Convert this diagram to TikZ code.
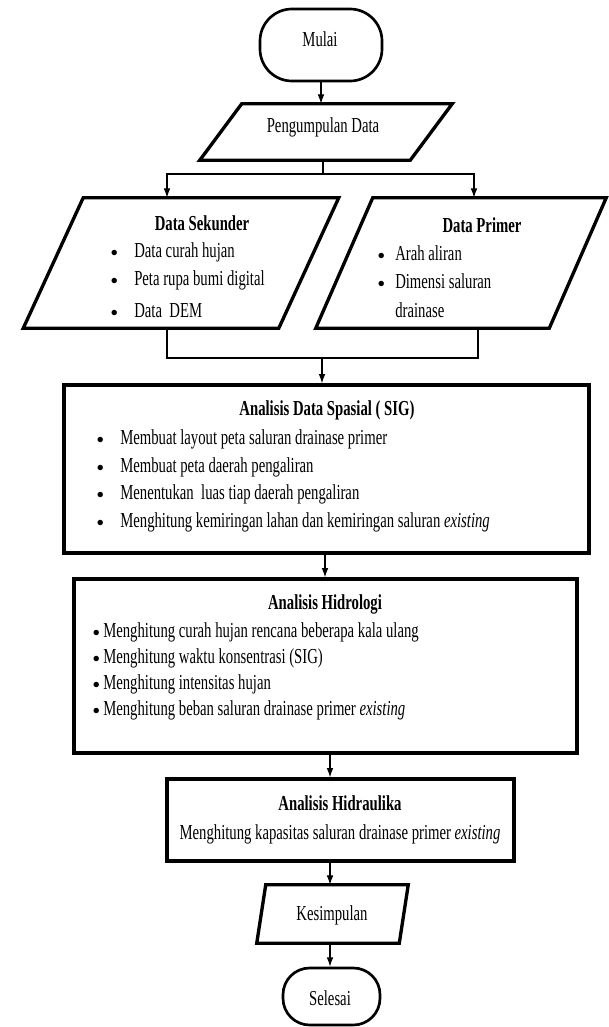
\documentclass[tikz,border=0pt]{standalone}
\usepackage{fontspec}
\setmainfont[FakeStretch=0.69]{Liberation Serif}
\newfontfamily\bulfont{Liberation Serif}
\usetikzlibrary{arrows.meta,calc}
\newcommand\bul[1]{\makebox[#1][l]{\raisebox{-2.4pt}{\bulfont\fontsize{17}{17}\selectfont\textbullet}}}
\newcommand\paral[2]{\draw[line width=2.5pt] ($(#1.north west)+(#2,0)$) -- ($(#1.north east)+(#2,0)$) -- ($(#1.south east)-(#2,0)$) -- ($(#1.south west)-(#2,0)$) -- cycle;}
\begin{document}
\begin{tikzpicture}[x=0.75pt,y=-0.75pt,
  txt/.style={inner sep=0pt, anchor=base, font=\fontsize{16}{19}\selectfont},
  ltxt/.style={txt, anchor=base west},
  pbox/.style={draw=none, inner sep=0pt},
  rbox/.style={draw, line width=2.5pt, inner sep=0pt},
  term/.style={draw, line width=2pt, rounded corners=24pt, inner sep=0pt},
  conn/.style={line width=0.8pt},
  arr/.style={conn, -{Latex[length=7pt,width=5pt]}},
]
\useasboundingbox (0,0) rectangle (608,1027);

% shapes
\node[term, minimum width=91.5pt, minimum height=54pt] (mu) at (321,45) {};
\node[pbox, minimum width=157.5pt, minimum height=42pt] (pd) at (326,132) {};
\paral{pd}{21}
\node[pbox, minimum width=191.25pt, minimum height=97.5pt] (ds) at (181,263) {};
\paral{ds}{30}
\node[pbox, minimum width=174.75pt, minimum height=97.5pt] (dp) at (461,263) {};
\paral{dp}{28.5}
\node[rbox, minimum width=393.75pt, minimum height=126pt] (sp) at (326.5,469) {};
\node[rbox, minimum width=377.25pt, minimum height=130.5pt] (hi) at (325.5,666) {};
\node[rbox, minimum width=260.25pt, minimum height=61.5pt] (hr) at (340.5,820) {};
\node[pbox, minimum width=106.5pt, minimum height=43.5pt] (ke) at (332.5,914) {};
\paral{ke}{4.5}
\node[term, rounded corners=20pt, minimum width=72.75pt, minimum height=42.75pt] (se) at (331.5,996.5) {};

% texts
\node[txt] (mut) at (320,47) {Mulai};
\node[txt] (pdt) at (323,133) {Pengumpulan Data};

\node[txt] (dst) at (202,230) {\bfseries Data Sekunder};
\node[ltxt] (ds1) at (110,257) {\bul{18pt}Data curah hujan};
\node[ltxt] (ds2) at (110,285) {\bul{18pt}Peta rupa bumi digital};
\node[ltxt] (ds3) at (110,317) {\bul{18pt}Data\ \ DEM};

\node[txt] (dpt) at (482,232) {\bfseries Data Primer};
\node[ltxt] (dp1) at (377,260) {\bul{13.5pt}Arah aliran};
\node[ltxt] (dp2) at (377,288) {\bul{13.5pt}Dimensi saluran};
\node[ltxt] (dp3) at (395,317) {drainase};

\node[txt] (spt) at (327,415) {\bfseries Analisis Data Spasial ( SIG)};
\node[ltxt] (sp1) at (96,444) {\bul{18pt}Membuat layout peta saluran drainase primer};
\node[ltxt] (sp2) at (96,472) {\bul{18pt}Membuat peta daerah pengaliran};
\node[ltxt] (sp3) at (96,499) {\bul{18pt}Menentukan\ \ luas tiap daerah pengaliran};
\node[ltxt] (sp4) at (96,527) {\bul{18pt}Menghitung kemiringan lahan dan kemiringan saluran \textit{existing}};

\node[txt] (hit) at (325,609) {\bfseries Analisis Hidrologi};
\node[ltxt] (hi1) at (92,637) {\bul{8.25pt}Menghitung curah hujan rencana beberapa kala ulang};
\node[ltxt] (hi2) at (92,663) {\bul{8.25pt}Menghitung waktu konsentrasi (SIG)};
\node[ltxt] (hi3) at (92,689) {\bul{8.25pt}Menghitung intensitas hujan};
\node[ltxt] (hi4) at (92,715) {\bul{8.25pt}Menghitung beban saluran drainase primer \textit{existing}};

\node[txt] (hrt) at (340,810) {\bfseries Analisis Hidraulika};
\node[txt] (hr1) at (340,839) {Menghitung kapasitas saluran drainase primer \textit{existing}};

\node[txt] (ket) at (332,920) {Kesimpulan};
\node[txt] (set) at (330,1005) {Selesai};

% connectors
\draw[arr] (mu.south) -- (mu.south |- pd.north);
\coordinate (split) at (323,174);
\coordinate (dsx) at (167,0);
\coordinate (dpx) at (474,0);
\coordinate (dpb) at (478,0);
\draw[conn] (pd.south -| split) -- (split);
\draw[arr] (split) -| (dsx |- ds.north);
\draw[arr] (split) -| (dpx |- dp.north);
\coordinate (jn) at (322,358);
\draw[conn] (dsx |- ds.south) |- (jn) -| (dpb |- dp.south);
\draw[arr] (jn) -- (jn |- sp.north);
\coordinate (c2) at (325,0);
\coordinate (c3) at (330,0);
\draw[arr] (c2 |- sp.south) -- (c2 |- hi.north);
\draw[arr] (c3 |- hi.south) -- (c3 |- hr.north);
\draw[arr] (c3 |- hr.south) -- (c3 |- ke.north);
\draw[arr] (c3 |- ke.south) -- (c3 |- se.north);
\end{tikzpicture}
\end{document}
